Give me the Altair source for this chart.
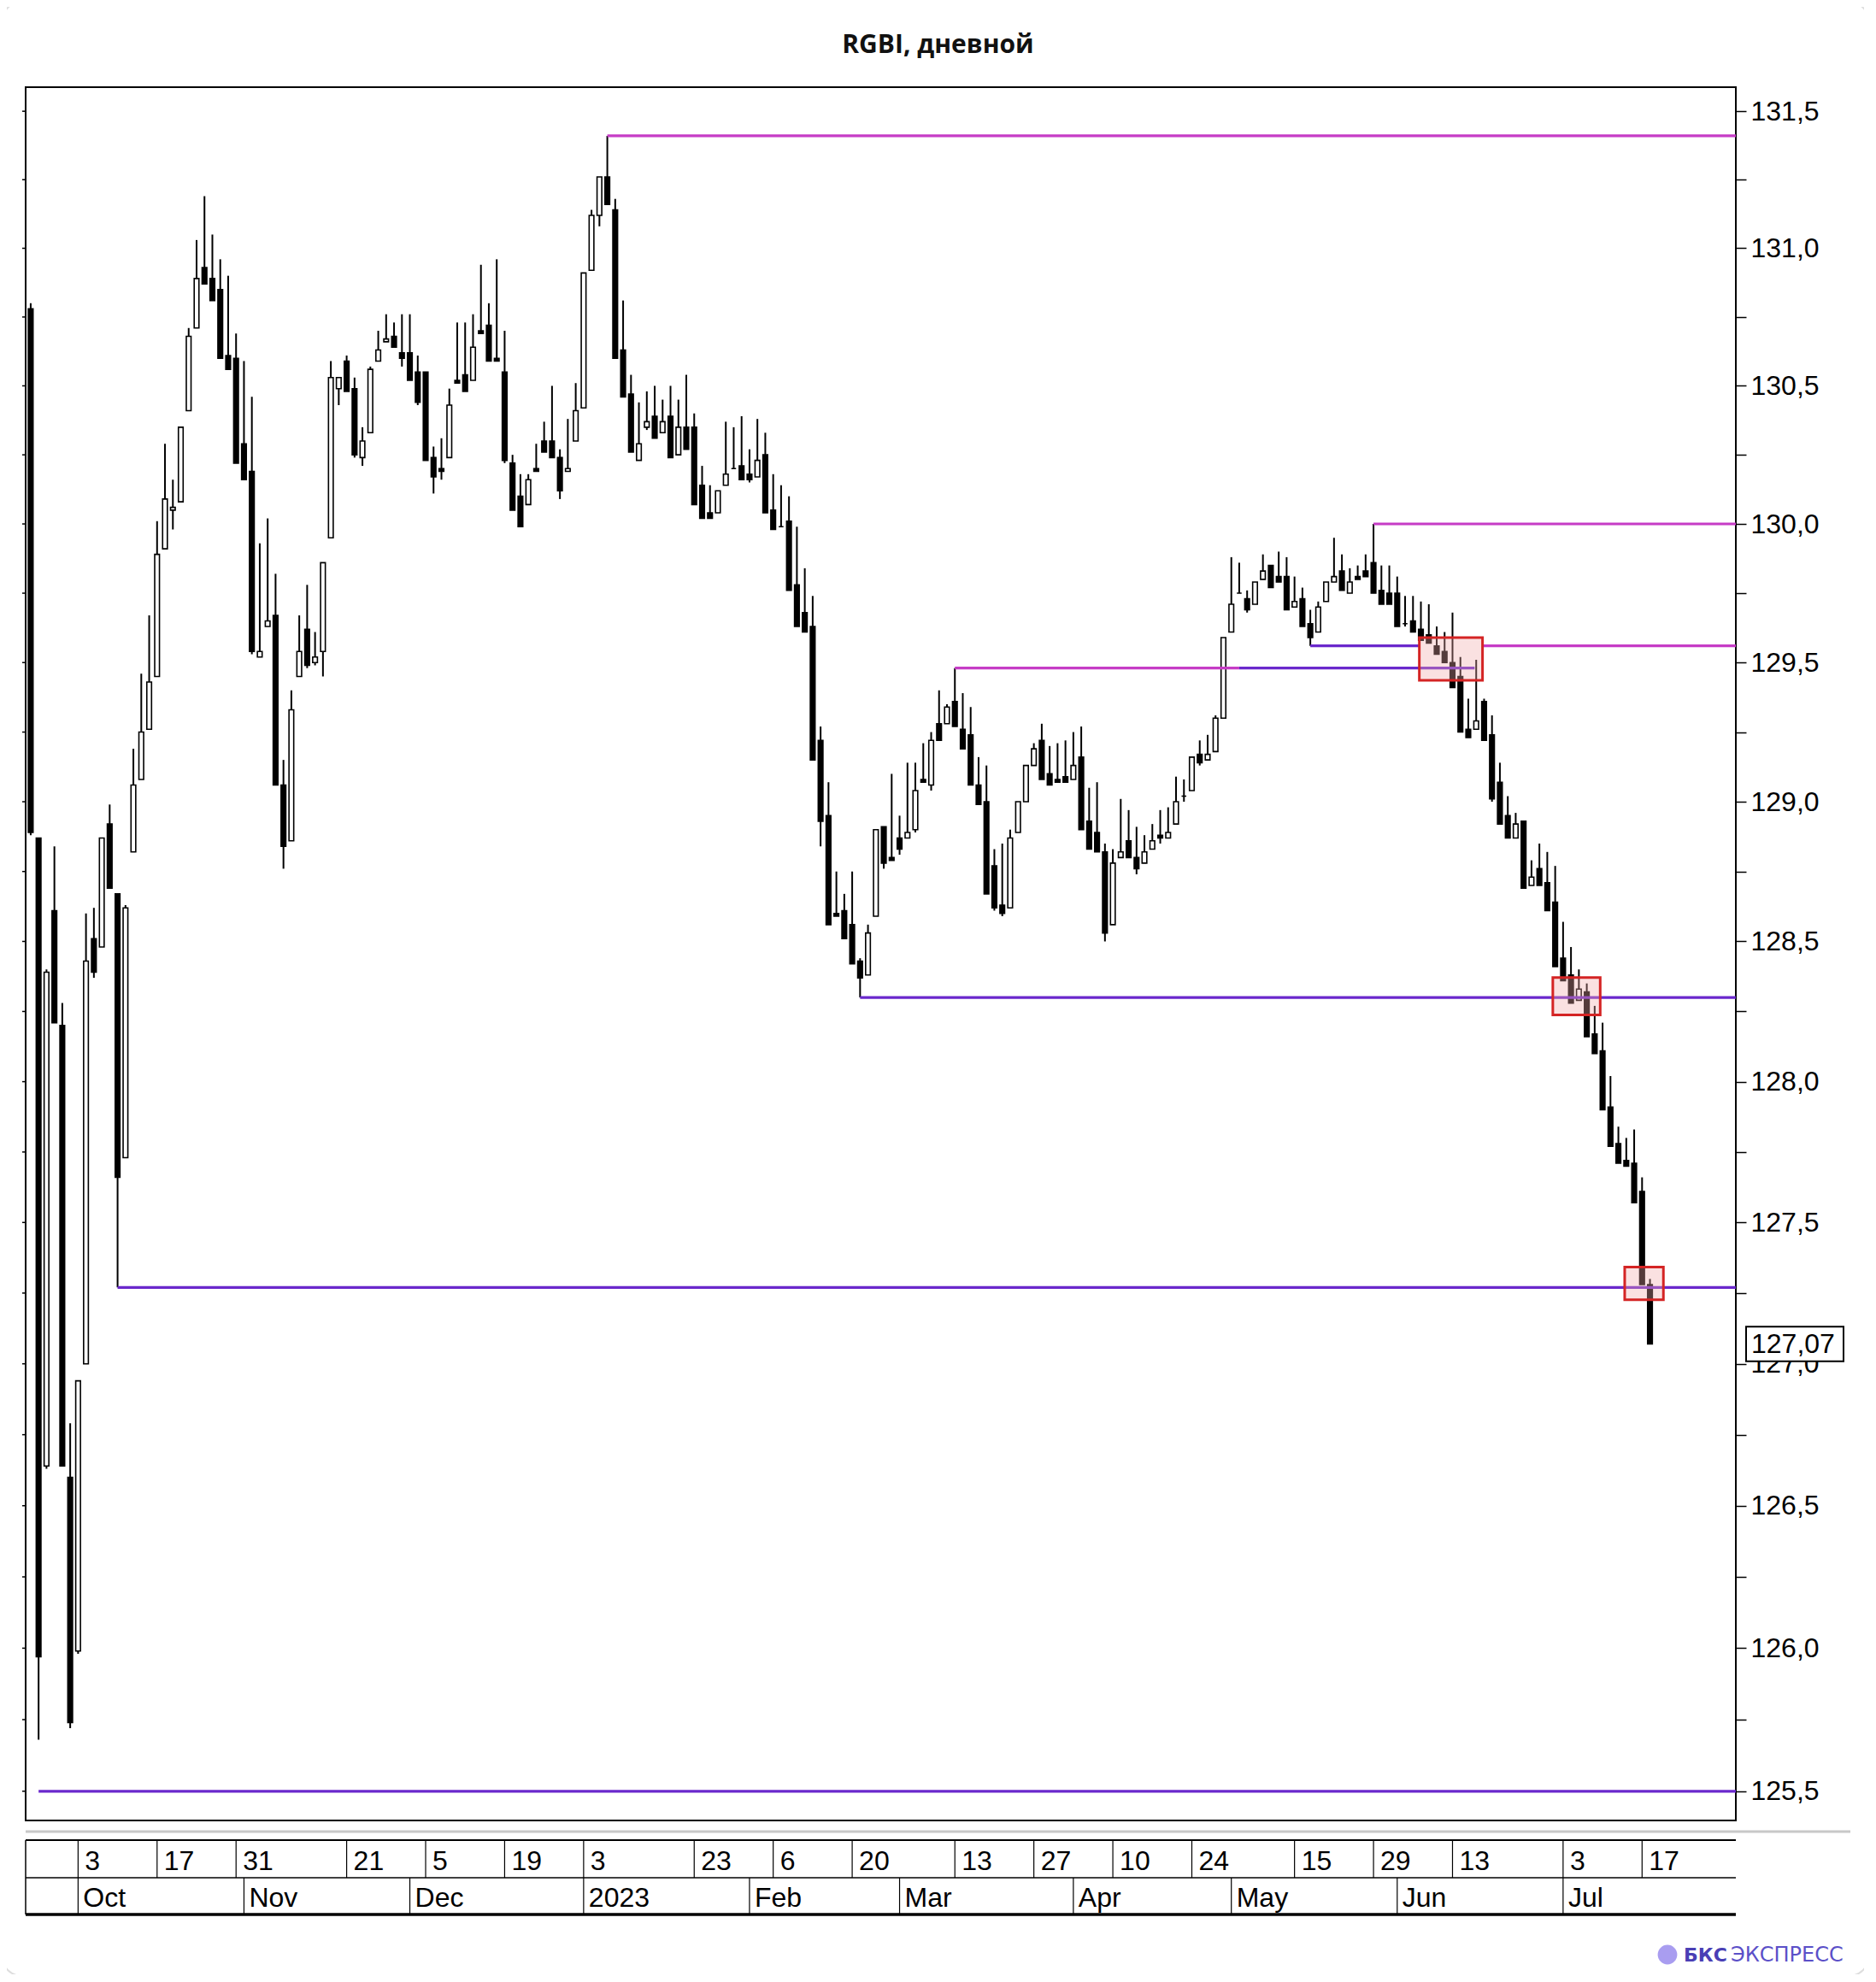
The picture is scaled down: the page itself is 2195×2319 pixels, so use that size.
import altair as alt
import pandas as pd

# ---------------- calendar (MOEX trading days) ----------------
HOLIDAYS = ["2022-11-04", "2023-01-02", "2023-02-23", "2023-03-08",
            "2023-05-01", "2023-05-09", "2023-06-12"]
trading_days = [d.strftime("%Y-%m-%d") for d in pd.bdate_range("2022-09-23", "2023-07-18")
                if d.strftime("%Y-%m-%d") not in HOLIDAYS]

# ---------------- RGBI daily candles ----------------
open_ = [
    130.78, 128.87, 126.64, 128.61, 128.20, 126.60, 125.99, 127.00, 128.51, 128.48,
    128.92, 128.67, 127.73, 128.82, 129.08, 129.26, 129.45, 129.91, 130.05, 130.08,
    130.41, 130.71, 130.93, 130.89, 130.85, 130.61, 130.60, 130.29, 130.19, 129.52,
    129.63, 129.67, 129.06, 128.86, 129.45, 129.62, 129.50, 129.54, 129.95, 130.49,
    130.59, 130.49, 130.24, 130.33, 130.59, 130.66, 130.68, 130.62, 130.62, 130.55,
    130.55, 130.24, 130.20, 130.24, 130.52, 130.54, 130.52, 130.70, 130.72, 130.60,
    130.55, 130.22, 130.10, 130.07, 130.20, 130.30, 130.30, 130.24, 130.19, 130.30,
    130.42, 130.92, 131.12, 131.26, 131.14, 130.63, 130.47, 130.23, 130.35, 130.39,
    130.33, 130.39, 130.25, 130.35, 130.35, 130.14, 130.04, 130.04, 130.14, 130.20,
    130.21, 130.18, 130.17, 130.25, 130.05, 129.99, 130.01, 129.78, 129.68, 129.63,
    129.22, 128.95, 128.60, 128.61, 128.56, 128.43, 128.38, 128.59, 128.91, 128.80,
    128.87, 128.87, 128.90, 129.08, 129.06, 129.28, 129.28, 129.36, 129.26, 129.24,
    129.06, 129.00, 128.77, 128.63, 128.62, 128.89, 129.00, 129.13, 129.22, 129.10,
    129.08, 129.09, 129.08, 129.16, 128.93, 128.89, 128.82, 128.56, 128.80, 128.86,
    128.80, 128.78, 128.83, 128.88, 128.87, 128.92, 129.02, 129.04, 129.17, 129.15,
    129.18, 129.30, 129.61, 129.75, 129.73, 129.71, 129.80, 129.85, 129.81, 129.81,
    129.70, 129.73, 129.64, 129.61, 129.72, 129.79, 129.83, 129.75, 129.81, 129.83,
    129.86, 129.76, 129.75, 129.75, 129.64, 129.65, 129.62, 129.60, 129.56, 129.54,
    129.50, 129.45, 129.26, 129.26, 129.36, 129.24, 129.07, 128.95, 128.87, 128.93,
    128.70, 128.76, 128.71, 128.64, 128.44, 128.38, 128.29, 128.32, 128.17, 128.11,
    127.91, 127.78, 127.72, 127.71, 127.61, 127.28]
high = [
    130.80, 128.87, 128.40, 128.84, 128.28, 126.79, 126.94, 128.60, 128.62, 128.87,
    128.99, 128.67, 128.63, 129.19, 129.46, 129.67, 130.01, 130.29, 130.16, 130.35,
    130.71, 131.03, 131.19, 131.05, 130.96, 130.90, 130.69, 130.59, 130.46, 129.93,
    130.02, 129.82, 129.15, 129.40, 129.67, 129.78, 129.61, 129.86, 130.59, 130.53,
    130.61, 130.53, 130.35, 130.57, 130.70, 130.76, 130.73, 130.76, 130.76, 130.61,
    130.55, 130.28, 130.31, 130.49, 130.73, 130.73, 130.76, 130.94, 130.80, 130.96,
    130.70, 130.25, 130.18, 130.18, 130.29, 130.37, 130.50, 130.27, 130.38, 130.51,
    130.91, 131.14, 131.26, 131.41, 131.18, 130.81, 130.54, 130.44, 130.48, 130.50,
    130.45, 130.50, 130.45, 130.54, 130.40, 130.21, 130.14, 130.12, 130.37, 130.35,
    130.39, 130.27, 130.38, 130.33, 130.18, 130.14, 130.10, 129.99, 129.84, 129.74,
    129.27, 129.07, 128.75, 128.67, 128.75, 128.44, 128.56, 128.90, 128.91, 129.10,
    128.95, 129.14, 129.14, 129.21, 129.25, 129.40, 129.35, 129.48, 129.39, 129.34,
    129.16, 129.13, 128.83, 128.85, 128.90, 129.00, 129.13, 129.21, 129.28, 129.20,
    129.21, 129.22, 129.25, 129.27, 129.05, 129.07, 128.85, 128.83, 129.01, 128.97,
    128.91, 128.88, 128.92, 128.97, 128.98, 129.09, 129.08, 129.16, 129.22, 129.24,
    129.31, 129.59, 129.88, 129.86, 129.76, 129.79, 129.89, 129.85, 129.90, 129.88,
    129.81, 129.77, 129.69, 129.72, 129.79, 129.95, 129.89, 129.84, 129.85, 129.89,
    130.00, 129.85, 129.85, 129.81, 129.74, 129.74, 129.72, 129.71, 129.63, 129.61,
    129.68, 129.52, 129.37, 129.51, 129.37, 129.31, 129.14, 129.02, 128.96, 128.93,
    128.79, 128.85, 128.82, 128.77, 128.57, 128.48, 128.40, 128.35, 128.27, 128.21,
    128.02, 127.84, 127.80, 127.83, 127.66, 127.30]
low = [
    128.88, 125.68, 126.63, 128.21, 126.64, 125.72, 125.98, 127.00, 128.37, 128.48,
    128.69, 127.27, 127.73, 128.82, 129.08, 129.26, 129.45, 129.91, 129.98, 130.08,
    130.41, 130.71, 130.87, 130.81, 130.60, 130.56, 130.22, 130.16, 129.53, 129.52,
    129.63, 129.06, 128.76, 128.86, 129.45, 129.48, 129.49, 129.45, 129.95, 130.43,
    130.48, 130.24, 130.21, 130.33, 130.59, 130.66, 130.64, 130.57, 130.52, 130.43,
    130.23, 130.11, 130.16, 130.24, 130.51, 130.48, 130.52, 130.69, 130.59, 130.59,
    130.22, 130.05, 129.99, 130.07, 130.19, 130.26, 130.24, 130.09, 130.19, 130.30,
    130.42, 130.92, 131.08, 131.16, 130.60, 130.46, 130.26, 130.23, 130.34, 130.31,
    130.33, 130.24, 130.25, 130.27, 130.07, 130.02, 130.02, 130.04, 130.14, 130.20,
    130.16, 130.15, 130.17, 130.04, 129.98, 129.99, 129.76, 129.63, 129.61, 129.15,
    128.84, 128.56, 128.59, 128.51, 128.42, 128.30, 128.38, 128.59, 128.76, 128.79,
    128.81, 128.87, 128.89, 129.07, 129.04, 129.22, 129.28, 129.27, 129.19, 129.06,
    128.99, 128.67, 128.61, 128.59, 128.62, 128.89, 129.00, 129.13, 129.08, 129.06,
    129.07, 129.07, 129.08, 128.90, 128.83, 128.82, 128.50, 128.56, 128.80, 128.80,
    128.74, 128.78, 128.83, 128.85, 128.87, 128.92, 129.00, 129.04, 129.13, 129.15,
    129.18, 129.30, 129.61, 129.75, 129.68, 129.71, 129.80, 129.77, 129.79, 129.69,
    129.70, 129.63, 129.56, 129.61, 129.72, 129.79, 129.76, 129.75, 129.80, 129.81,
    129.75, 129.71, 129.71, 129.63, 129.63, 129.61, 129.58, 129.57, 129.53, 129.50,
    129.41, 129.25, 129.23, 129.26, 129.22, 129.00, 128.92, 128.87, 128.87, 128.69,
    128.70, 128.70, 128.61, 128.41, 128.36, 128.28, 128.29, 128.16, 128.10, 127.90,
    127.77, 127.71, 127.70, 127.57, 127.28, 127.07]
close = [
    128.89, 125.97, 128.39, 128.21, 126.64, 125.74, 126.94, 128.43, 128.39, 128.87,
    128.69, 127.66, 128.62, 129.06, 129.25, 129.43, 129.89, 130.09, 130.06, 130.35,
    130.68, 130.89, 130.87, 130.81, 130.60, 130.56, 130.22, 130.16, 129.54, 129.54,
    129.65, 129.06, 128.84, 129.33, 129.54, 129.49, 129.52, 129.86, 130.53, 130.53,
    130.48, 130.25, 130.30, 130.56, 130.63, 130.67, 130.64, 130.60, 130.52, 130.44,
    130.23, 130.17, 130.19, 130.43, 130.51, 130.48, 130.64, 130.69, 130.59, 130.59,
    130.23, 130.05, 129.99, 130.16, 130.19, 130.26, 130.24, 130.12, 130.20, 130.41,
    130.91, 131.12, 131.26, 131.16, 130.60, 130.46, 130.26, 130.29, 130.37, 130.31,
    130.37, 130.24, 130.35, 130.27, 130.07, 130.02, 130.02, 130.12, 130.18, 130.20,
    130.16, 130.16, 130.23, 130.04, 129.98, 129.99, 129.76, 129.63, 129.61, 129.15,
    128.93, 128.56, 128.59, 128.51, 128.42, 128.37, 128.53, 128.90, 128.78, 128.79,
    128.83, 128.89, 129.04, 129.07, 129.22, 129.22, 129.34, 129.27, 129.19, 129.06,
    128.99, 128.67, 128.62, 128.60, 128.87, 129.00, 129.13, 129.19, 129.08, 129.06,
    129.07, 129.07, 129.13, 128.90, 128.83, 128.82, 128.53, 128.78, 128.82, 128.80,
    128.76, 128.82, 128.86, 128.87, 128.89, 129.00, 129.02, 129.16, 129.14, 129.17,
    129.30, 129.59, 129.71, 129.75, 129.69, 129.79, 129.83, 129.77, 129.79, 129.69,
    129.72, 129.63, 129.59, 129.70, 129.79, 129.81, 129.76, 129.79, 129.80, 129.81,
    129.75, 129.71, 129.71, 129.63, 129.64, 129.61, 129.58, 129.57, 129.53, 129.50,
    129.41, 129.25, 129.23, 129.29, 129.22, 129.01, 128.92, 128.87, 128.92, 128.69,
    128.73, 128.70, 128.61, 128.41, 128.36, 128.28, 128.33, 128.16, 128.10, 127.90,
    127.77, 127.71, 127.70, 127.57, 127.28, 127.07]

# ---------------- axis texts ----------------
day_tick_dates = ["2022-10-03", "2022-10-17", "2022-10-31", "2022-11-21", "2022-12-05",
                  "2022-12-19", "2023-01-03", "2023-01-23", "2023-02-06", "2023-02-20",
                  "2023-03-13", "2023-03-27", "2023-04-10", "2023-04-24", "2023-05-15",
                  "2023-05-29", "2023-06-13", "2023-07-03", "2023-07-17"]
day_tick_labels = ["3", "17", "31", "21", "5", "19", "3", "23", "6", "20",
                   "13", "27", "10", "24", "15", "29", "13", "3", "17"]
month_dates = ["2022-10-03", "2022-11-01", "2022-12-01", "2023-01-03", "2023-02-01",
               "2023-03-01", "2023-04-03", "2023-05-02", "2023-06-01", "2023-07-03"]
month_labels = ["Oct", "Nov", "Dec", "2023", "Feb", "Mar", "Apr", "May", "Jun", "Jul"]
price_ticks = [125.5, 125.75, 126.0, 126.25, 126.5, 126.75, 127.0, 127.25, 127.5, 127.75,
               128.0, 128.25, 128.5, 128.75, 129.0, 129.25, 129.5, 129.75, 130.0, 130.25,
               130.5, 130.75, 131.0, 131.25, 131.5]

# ---------------- annotation levels / boxes ----------------
X_END = 215.87
level_price = [131.41, 130.00, 129.56, 129.56, 129.48, 129.48, 128.30, 127.27, 125.50]
level_start = [73, 170, 183.8, 162, 117, 153, 105, 11, 1]
level_end = [X_END, X_END, X_END, 175.8, 153, 182.8, X_END, X_END, X_END]
level_kind = ["magenta", "magenta", "magenta", "purple", "magenta", "purple",
              "purple", "purple", "purple"]

box_x0 = [175.8, 192.7, 201.8]
box_x1 = [183.8, 198.7, 206.7]
box_lo = [129.436, 128.238, 127.226]
box_hi = [129.590, 128.371, 127.342]

last_price = 127.07
last_label = "127,07"

# ---------------- build tables ----------------
n = len(trading_days)
idx = {d: k for k, d in enumerate(trading_days)}
df = pd.DataFrame({"i": list(range(n)), "date": trading_days, "open": open_,
                   "high": high, "low": low, "close": close})
df["dir"] = ["up" if c > o else "down" for o, c in zip(open_, close)]
df["top"] = [max(o, c) for o, c in zip(open_, close)]
df["bot"] = [min(o, c) for o, c in zip(open_, close)]
df["x0"] = df["i"] - 0.3
df["x1"] = df["i"] + 0.3

ticks_df = pd.DataFrame({"i": [idx[d] for d in day_tick_dates], "label": day_tick_labels})
months_df = pd.DataFrame({"i": [idx[d] for d in month_dates], "label": month_labels})
levels_df = pd.DataFrame({"price": level_price, "x0": level_start, "x1": level_end,
                          "kind": level_kind})
boxes_df = pd.DataFrame({"x0": box_x0, "x1": box_x1, "lo": box_lo, "hi": box_hi})
last_df = pd.DataFrame({"price": [last_price], "label": [last_label],
                        "hi": [last_price * 1.00048], "lo": [last_price / 1.00048]})
ptick_df = pd.DataFrame({"price": price_ticks})
one = pd.DataFrame({"k": [0]})

W, H = 2001, 2028
xs = alt.Scale(domain=[-0.64, X_END], nice=False, zero=False)
ys = alt.Scale(type="log", domain=[125.398, 131.588], nice=False)

FONT = "Liberation Sans"
yaxis = alt.Axis(orient="right", values=price_ticks,
                 labelExpr="(datum.value*2) % 1 == 0 ? replace(format(datum.value, '.1f'), '.', ',') : ''",
                 tickSize=12, tickWidth=1.5, tickColor="black", domain=False, grid=False,
                 labelFontSize=32, labelFont=FONT, labelColor="black",
                 labelPadding=5, title=None, labelOverlap=False, labelFlush=False,
                 labelBound=False)


def Y(field):
    return alt.Y(field, scale=ys, axis=yaxis)


def X(field):
    return alt.X(field, scale=xs, axis=None)


card = alt.Chart(one).mark_rect(fill="white", fillOpacity=0, stroke="#dddddd",
                                strokeWidth=2, cornerRadius=24).encode(
    x=alt.value(-28), x2=alt.value(2157), y=alt.value(-100), y2=alt.value(2210))

left_ticks = alt.Chart(ptick_df).mark_rule(color="black", strokeWidth=1.5).encode(
    x=alt.value(-4), x2=alt.value(0), y=Y("price:Q"))

wicks = alt.Chart(df).mark_rule(color="black", strokeWidth=2).encode(
    x=X("i:Q"), y=Y("low:Q"), y2="high:Q")

bodies = alt.Chart(df).mark_rect(stroke="black", strokeWidth=1.6).encode(
    x=X("x0:Q"), x2="x1:Q", y=Y("bot:Q"), y2="top:Q",
    fill=alt.Fill("dir:N", scale=alt.Scale(domain=["up", "down"], range=["white", "black"]),
                  legend=None))

levels = alt.Chart(levels_df).mark_rule(strokeWidth=3.2).encode(
    x=X("x0:Q"), x2="x1:Q", y=Y("price:Q"),
    color=alt.Color("kind:N", scale=alt.Scale(domain=["magenta", "purple"],
                                              range=["#c63cc6", "#6a28cc"]), legend=None))

boxes = alt.Chart(boxes_df).mark_rect(fill="#f0a8a8", fillOpacity=0.35, stroke="#d42424",
                                      strokeWidth=3).encode(
    x=X("x0:Q"), x2="x1:Q", y=Y("lo:Q"), y2="hi:Q")

last_box = alt.Chart(last_df).mark_rect(fill="white", stroke="black", strokeWidth=2).encode(
    x=alt.value(2013), x2=alt.value(2127), y=Y("lo:Q"), y2="hi:Q")
last_text = alt.Chart(last_df).mark_text(align="left", baseline="middle", fontSize=32,
                                         font=FONT, color="black").encode(
    x=alt.value(2019), y=Y("price:Q"), text="label:N")

# bottom date table
gray_line = alt.Chart(one).mark_rule(color="#c8c8c8", strokeWidth=3).encode(
    x=alt.value(0), x2=alt.value(2135), y=alt.value(2041))
top_line = alt.Chart(one).mark_rule(color="black", strokeWidth=2).encode(
    x=alt.value(0), x2=alt.value(W), y=alt.value(2051))
mid_line = alt.Chart(one).mark_rule(color="black", strokeWidth=1.5).encode(
    x=alt.value(0), x2=alt.value(W), y=alt.value(2095))
bot_line = alt.Chart(one).mark_rule(color="black", strokeWidth=3.5).encode(
    x=alt.value(0), x2=alt.value(W), y=alt.value(2138))
left_line = alt.Chart(one).mark_rule(color="black", strokeWidth=1.5).encode(
    x=alt.value(0), y=alt.value(2051), y2=alt.value(2138))

tick_seps = alt.Chart(ticks_df).mark_rule(color="black", strokeWidth=1.2).encode(
    x=X("i:Q"), y=alt.value(2051), y2=alt.value(2095))
tick_text = alt.Chart(ticks_df).mark_text(align="left", baseline="alphabetic", dx=8,
                                          fontSize=32, font=FONT, color="black").encode(
    x=X("i:Q"), y=alt.value(2086), text="label:N")
month_seps = alt.Chart(months_df).mark_rule(color="black", strokeWidth=1.2).encode(
    x=X("i:Q"), y=alt.value(2095), y2=alt.value(2138))
month_text = alt.Chart(months_df).mark_text(align="left", baseline="alphabetic", dx=6,
                                            fontSize=32, font=FONT, color="black").encode(
    x=X("i:Q"), y=alt.value(2129), text="label:N")

title = alt.Chart(one).mark_text(text="RGBI, дневной", font="Open Sans", fontWeight="bold",
                                 fontSize=30, align="center", baseline="alphabetic",
                                 color="#111111").encode(
    x=alt.value(1067.5), y=alt.value(-40))

logo = alt.Chart(one).mark_circle(size=520, color="#a99df0", opacity=1).encode(
    x=alt.value(1921), y=alt.value(2185))
wm1 = alt.Chart(one).mark_text(text="БКС", font="DejaVu Sans", fontWeight="bold",
                               fontSize=22, align="left", baseline="alphabetic",
                               color="#4a3fb5").encode(x=alt.value(1940), y=alt.value(2193))
wm2 = alt.Chart(one).mark_text(text="ЭКСПРЕСС", font="DejaVu Sans", fontSize=24,
                               align="left", baseline="alphabetic",
                               color="#5b50c8").encode(x=alt.value(1995), y=alt.value(2193))

chart = alt.layer(
    card, left_ticks, wicks, bodies, levels, boxes, last_box, last_text,
    gray_line, top_line, mid_line, bot_line, left_line,
    tick_seps, tick_text, month_seps, month_text, title, logo, wm1, wm2
).properties(
    width=W, height=H,
    autosize=alt.AutoSizeParams(type="none"),
    padding={"left": 22, "top": 94, "right": 150, "bottom": 180},
    background="white"
).configure_view(stroke="black", strokeWidth=2)

chart.save("out.html", embed_options={"renderer": "svg", "actions": False})
